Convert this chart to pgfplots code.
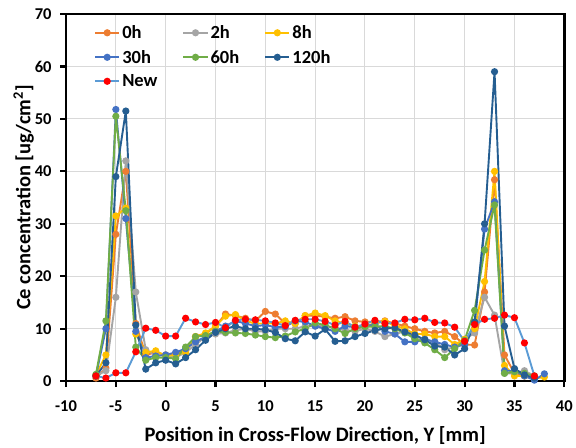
\documentclass[border=0pt]{standalone}
\usepackage{pgfplots}
\pgfplotsset{compat=1.18}
\usepackage{pgfplotstable}
\usepackage{fontspec}
\setmainfont{Carlito}[BoldFont={Carlito Bold}]
\definecolor{cO}{HTML}{ED7D31}
\definecolor{cG}{HTML}{A5A5A5}
\definecolor{cY}{HTML}{FFC000}
\definecolor{cB}{HTML}{4472C4}
\definecolor{cGr}{HTML}{70AD47}
\definecolor{cD}{HTML}{255E91}
\definecolor{cL}{HTML}{5B9BD5}
\definecolor{cR}{HTML}{FF0000}
\pgfplotstableread{
X h0 h2 h8 h30 h60 h120 new
-7 0.6 1.0 1.2 1.0 1.3 1.0 1.0
-6 2.5 2.0 5.0 10.0 11.5 3.5 0.6
-5 28 16 31.5 51.8 50.5 39 1.6
-4 40 42 33 31 32.5 51.5 1.6
-3 11 17 9 9.5 6.5 10.7 5.6
-2 5 6 5.5 4.5 4.0 2.3 10.1
-1 5.5 5.0 5.8 4.8 4.5 3.5 9.7
0 5 5 4.8 5 4.5 4 8.6
1 5.3 4.5 5.0 5.5 4.3 3.3 8.6
2 6 5.5 5.5 6.2 6.5 4.5 12
3 8.5 7 8.5 7.5 8.5 6 11.3
4 9 8.5 9.2 8.5 8.7 7.8 10.8
5 10.5 9 10.5 9.5 9.5 9.3 11.2
6 12.8 9.2 12.4 10.5 9.3 10 10.2
7 12.5 9.7 12.7 11.5 9.2 10.5 11.6
8 12 10 11.5 11 9.1 10 11.8
9 11.5 9.5 11 10.5 8.8 10 11.7
10 13.3 9.5 11 10.7 8.5 9.8 11.5
11 12.8 10 11 10.3 8.3 9.3 11.1
12 11 10 11.5 10.4 8.6 8.1 10.6
13 11 10 11 11.5 9.4 7.7 11.6
14 12.5 10.5 12.5 11.3 10 9.4 11.8
15 12.5 10.5 13 10.5 11.1 8.6 11.8
16 12.3 10.5 12.5 10 10.7 9.9 11.4
17 12 10.2 11.5 9.5 10 7.6 10.7
18 12.3 9.8 11 10.5 9.1 7.7 11.4
19 11.5 9.5 10.5 10.3 10 8.5 10.3
20 11.3 10 10.5 10.5 10.4 9.1 10.9
21 11.3 9.5 11 10.8 10.4 9.7 11.6
22 11.5 8.5 11.4 9.5 10.5 10 11
23 11 9 10.6 9 10 10.2 11.1
24 10.5 9.5 10 7.5 9.2 9.4 11.8
25 10 8 9 7.5 8.1 8.8 11.7
26 9.5 8 9 8 7.3 7.9 12
27 9.2 7.5 8.5 7.5 6 6.7 11.2
28 9.5 6 8.5 7 4.5 6.5 11.1
29 8.5 6.5 7 6.5 6.2 5 10.3
30 7 8 8 7 7.8 6.2 7.6
31 6.9 9.2 10 11 13.5 11.3 10.8
32 17 16 19 29 25 30 11.8
33 38.4 12.6 40 34.2 33.6 59 12.0
34 5 1.5 3 2.0 1.5 10.5 12.6
35 1.5 1.5 1 2 1.8 2.4 12.1
36 1 2 1 1 1.5 1.2 7.3
37 0.8 1 0.5 0.2 1 0.6 1.0
38 nan nan 0.8 1.4 nan nan nan
}\data
\begin{document}
\begin{tikzpicture}
\begin{axis}[
  scale only axis,
  width=498pt, height=367pt,
  xmin=-10, xmax=40, ymin=0, ymax=70,
  xtick={-10,-5,...,40}, ytick={0,10,...,70},
  grid=major,
  grid style={draw=black!15, line width=1pt},
  axis line style={line width=2.4pt},
  tick style={line width=2.2pt, black},
  tick align=outside,
  major tick length=6pt,
  xtick pos=bottom, ytick pos=left,
  /pgf/number format/assume math mode=true,
  ticklabel style={font=\bfseries\fontsize{16.5}{18}\selectfont},
  xticklabel style={yshift=-10pt},
  yticklabel style={xshift=-5pt},
  xlabel={Position in Cross-Flow Direction, Y [mm]},
  ylabel={Ce concentration [ug/cm\textsuperscript{2}]},
  label style={font=\bfseries\fontsize{20.5}{22}\selectfont},
  xlabel style={yshift=-8pt},
  ylabel style={yshift=-6pt},
  unbounded coords=jump,
  every axis plot/.append style={line width=1.9pt, mark=*, mark size=2.6pt},
  legend style={draw=none, fill=none, at={(0.05,0.98)}, anchor=north west,
    font=\bfseries\fontsize{18.5}{20}\selectfont, row sep=6pt},
  legend columns=3,
  legend cell align=left,
  /tikz/every even column/.append style={column sep=23pt},
  legend image code/.code={
    \draw[#1] (0cm,0cm) -- (0.85cm,0cm);
    \draw[#1, only marks] plot coordinates {(0.425cm,0cm)};
  },
]
\addplot[color=cO, mark options={fill=cO}] table[x=X,y=h0]{\data};
\addlegendentry{0h}
\addplot[color=cG, mark options={fill=cG}] table[x=X,y=h2]{\data};
\addlegendentry{2h}
\addplot[color=cY, mark options={fill=cY}] table[x=X,y=h8]{\data};
\addlegendentry{8h}
\addplot[color=cB, mark options={fill=cB}] table[x=X,y=h30]{\data};
\addlegendentry{30h}
\addplot[color=cGr, mark options={fill=cGr}] table[x=X,y=h60]{\data};
\addlegendentry{60h}
\addplot[color=cD, mark options={fill=cD}] table[x=X,y=h120]{\data};
\addlegendentry{120h}
\addplot[color=cL, mark options={draw=cR, fill=cR}] table[x=X,y=new]{\data};
\addlegendentry{New}
\end{axis}
\path ([xshift=-66pt,yshift=-66pt]current axis.south west) circle (0pt);
\path ([yshift=14pt]current axis.north) circle (0pt);
\end{tikzpicture}
\end{document}
